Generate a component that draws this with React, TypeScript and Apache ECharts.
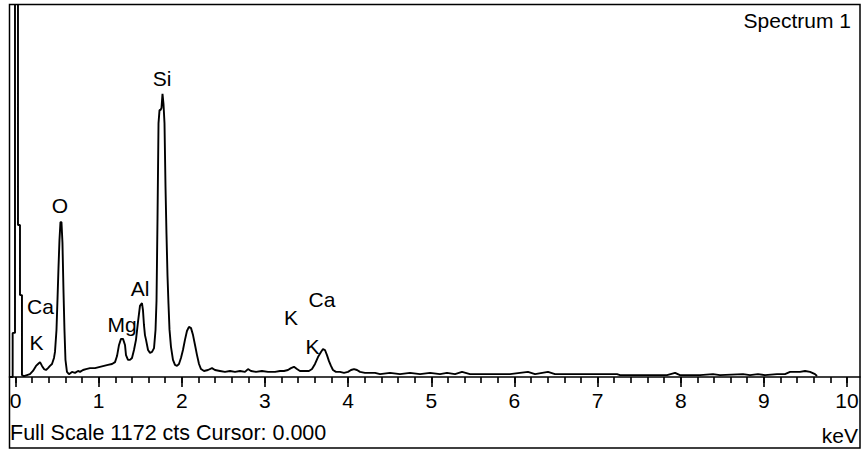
import React, { useEffect, useRef } from "react";
import * as echarts from "echarts";

const fullScaleCounts = 1172;
const cursorText = "0.000";
const spectrumTitle = "Spectrum 1";
const unitLabel = "keV";

const axisMinKeV = -0.072;
const axisMaxKeV = 10.156;

const majorTicks = [0, 1, 2, 3, 4, 5, 6, 7, 8, 9, 10];
const minorTicks = [
  0, 0.2, 0.4, 0.6, 0.8, 1, 1.2, 1.4, 1.6, 1.8, 2, 2.2, 2.4, 2.6, 2.8, 3, 3.2, 3.4, 3.6, 3.8,
  4, 4.2, 4.4, 4.6, 4.8, 5, 5.2, 5.4, 5.6, 5.8, 6, 6.2, 6.4, 6.6, 6.8, 7, 7.2, 7.4, 7.6, 7.8,
  8, 8.2, 8.4, 8.6, 8.8, 9, 9.2, 9.4, 9.6, 9.8, 10,
];

// spectrum trace: energy (keV) and counts
const spectrumKeV = [
  -0.066, -0.034, -0.034, -0.006, -0.006, 0.03, 0.03, 0.054, 0.054, 0.078, 0.078,
  0.102, 0.138, 0.174, 0.21, 0.247, 0.271, 0.295, 0.319, 0.343, 0.367, 0.391, 0.415, 0.439,
  0.463, 0.475, 0.493, 0.505, 0.517, 0.529, 0.541, 0.553, 0.565, 0.577, 0.589, 0.601, 0.619,
  0.643, 0.679, 0.716, 0.752, 0.776, 0.812, 0.848, 0.896, 0.956, 1.016, 1.064, 1.112, 1.161,
  1.197, 1.221, 1.245, 1.269, 1.293, 1.317, 1.329, 1.353, 1.377, 1.401, 1.425, 1.449, 1.473,
  1.497, 1.521, 1.533, 1.545, 1.557, 1.57, 1.594, 1.618, 1.642, 1.666, 1.684, 1.696, 1.708,
  1.72, 1.732, 1.744, 1.756, 1.768, 1.78, 1.792, 1.804, 1.816, 1.828, 1.84, 1.852, 1.87,
  1.894, 1.918, 1.942, 1.966, 1.99, 2.014, 2.038, 2.062, 2.086, 2.111, 2.135, 2.159, 2.183,
  2.207, 2.231, 2.267, 2.315, 2.363, 2.399, 2.459, 2.519, 2.58, 2.64, 2.7, 2.76, 2.796,
  2.832, 2.892, 2.964, 3.037, 3.121, 3.181, 3.229, 3.277, 3.313, 3.349, 3.385, 3.421, 3.481,
  3.529, 3.566, 3.602, 3.638, 3.674, 3.698, 3.722, 3.746, 3.77, 3.794, 3.818, 3.854, 3.902,
  3.951, 3.999, 4.035, 4.071, 4.107, 4.143, 4.203, 4.324, 4.384, 4.504, 4.624, 4.744, 4.865,
  4.985, 5.105, 5.189, 5.286, 5.37, 5.466, 5.706, 5.947, 6.163, 6.248, 6.404, 6.488, 6.789,
  7.03, 7.234, 7.27, 7.511, 7.835, 7.932, 7.991, 8.232, 8.388, 8.472, 8.749, 8.833, 8.929,
  9.013, 9.158, 9.254, 9.315, 9.435, 9.495, 9.555, 9.615, 9.639,
];
const spectrumCounts = [
  0, 0, 139, 139, 1500, 1500, 479, 479, 258, 258, 6,
  3, 6, 9, 19, 35, 41, 47, 35, 25, 22, 28, 35, 41,
  60, 79, 148, 243, 343, 432, 488, 488, 422, 274, 148, 54, 16,
  9, 16, 13, 19, 16, 22, 25, 28, 28, 32, 35, 38, 41,
  47, 66, 101, 120, 120, 101, 69, 54, 54, 60, 85, 117, 173,
  224, 233, 211, 164, 132, 117, 85, 76, 79, 91, 148, 240, 500,
  800, 841, 841, 848, 892, 860, 800, 600, 450, 320, 230, 150, 95,
  54, 38, 35, 41, 60, 85, 117, 145, 158, 154, 132, 101, 69,
  41, 25, 19, 22, 28, 22, 19, 16, 19, 16, 19, 16, 25,
  19, 16, 19, 16, 16, 19, 19, 22, 28, 32, 25, 19, 19,
  19, 25, 41, 63, 79, 88, 85, 69, 50, 35, 22, 16, 16,
  13, 16, 22, 25, 22, 16, 13, 13, 9, 13, 9, 13, 9,
  13, 9, 13, 9, 16, 9, 9, 9, 16, 9, 16, 9, 9,
  9, 9, 6, 6, 6, 13, 6, 6, 9, 6, 9, 6, 9,
  6, 9, 9, 16, 16, 19, 16, 9, 3,
];

// element annotations: name, energy (keV), counts level of the label
const peakNames = ["Si", "O", "Ca", "K", "Mg", "Al", "K", "Ca", "K"];
const peakKeV = [1.762, 0.535, 0.301, 0.253, 1.281, 1.497, 3.313, 3.686, 3.572];
const peakLabelCounts = [942, 539, 221, 110, 164, 280, 186, 243, 95];

const FONT = "'Liberation Sans', Arial, Helvetica, sans-serif";
const INK = "#000000";

export default function App() {
  const ref = useRef<HTMLDivElement | null>(null);

  useEffect(() => {
    if (!ref.current) return;
    const chart = echarts.init(ref.current, null, { renderer: "svg" });

    const traceData = spectrumKeV.map((k, i) => [k, spectrumCounts[i]]);
    const labelData = peakNames.map((n, i) => ({ name: n, value: [peakKeV[i], peakLabelCounts[i]] }));

    const commonAxis = {
      type: "value" as const,
      min: axisMinKeV,
      max: axisMaxKeV,
      position: "bottom" as const,
      splitLine: { show: false },
      axisPointer: { show: false },
    };

    chart.setOption({
      animation: false,
      backgroundColor: "#ffffff",
      grid: { left: 9.5, right: 2, top: 5, bottom: 75, containLabel: false },
      xAxis: [
        {
          ...commonAxis,
          axisLine: { show: true, onZero: false, lineStyle: { color: INK, width: 1.6 } },
          axisTick: { show: true, length: 6, customValues: minorTicks, lineStyle: { color: INK, width: 1.6 } },
          axisLabel: { show: false },
        },
        {
          ...commonAxis,
          axisLine: { show: false, onZero: false },
          axisTick: { show: true, length: 10, customValues: majorTicks, lineStyle: { color: INK, width: 1.6 } },
          axisLabel: {
            show: true,
            customValues: majorTicks,
            margin: 13,
            fontSize: 21,
            fontFamily: FONT,
            color: INK,
            hideOverlap: false,
            showMinLabel: true,
            showMaxLabel: true,
          },
        },
      ],
      yAxis: {
        type: "value",
        min: 0,
        max: fullScaleCounts,
        show: false,
      },
      series: [
        {
          type: "line",
          data: traceData,
          xAxisIndex: 0,
          showSymbol: false,
          symbol: "none",
          clip: true,
          lineStyle: { color: INK, width: 1.9 },
          z: 3,
        },
        {
          type: "scatter",
          data: labelData,
          xAxisIndex: 0,
          symbol: "circle",
          symbolSize: 0,
          itemStyle: { color: INK, opacity: 1 },
          label: {
            show: true,
            position: "inside",
            formatter: "{b}",
            fontSize: 21,
            fontFamily: FONT,
            color: INK,
            opacity: 1,
            textBorderWidth: 0,
            textBorderColor: "transparent",
          },
          emphasis: { disabled: true },
          z: 4,
        },
      ],
      graphic: [
        {
          type: "rect",
          shape: { x: 9.5, y: 4.5, width: 850.5, height: 443.5 },
          style: { fill: "none", stroke: INK, lineWidth: 1.5 },
          silent: true,
          z: 10,
        },
        {
          type: "text",
          x: 851,
          y: 20,
          style: {
            text: spectrumTitle,
            fontSize: 21,
            fontFamily: FONT,
            fill: INK,
            align: "right",
            verticalAlign: "middle",
          },
        },
        {
          type: "text",
          x: 10,
          y: 433,
          style: {
            text: `Full Scale ${fullScaleCounts} cts Cursor: ${cursorText}`,
            fontSize: 21.5,
            fontFamily: FONT,
            fill: INK,
            align: "left",
            verticalAlign: "middle",
          },
        },
        {
          type: "text",
          x: 858,
          y: 435,
          style: {
            text: unitLabel,
            fontSize: 21,
            fontFamily: FONT,
            fill: INK,
            align: "right",
            verticalAlign: "middle",
          },
        },
      ],
    });

    return () => chart.dispose();
  }, []);

  return (
    <div
      ref={ref}
      style={{ position: "absolute", left: 0, top: 0, width: 862, height: 452, background: "#fff" }}
    />
  );
}
